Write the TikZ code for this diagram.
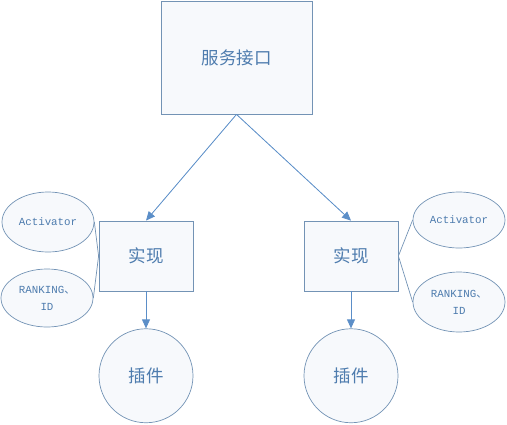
\documentclass[tikz,border=0pt]{standalone}
\usepackage{fontspec}
\newfontfamily\cjk{Noto Sans CJK SC}
\newfontfamily\latinmono{Liberation Mono}
\usetikzlibrary{arrows.meta,positioning,shapes.geometric}
\definecolor{edgeblue}{HTML}{7393B5}
\definecolor{arrowblue}{HTML}{5B8EC8}
\definecolor{textblue}{HTML}{4E7CAE}
\definecolor{paleblue}{HTML}{F7F9FC}

\begin{document}
\begin{tikzpicture}[
  x=1pt, y=-1pt,
  box/.style={draw=edgeblue, fill=paleblue, line width=0.8pt, text=textblue, inner sep=0pt, font=\cjk\fontsize{17.5}{20}\selectfont},
  oval/.style={ellipse, draw=edgeblue, fill=paleblue, line width=0.7pt, text=textblue, align=center, inner sep=0pt, minimum width=92pt, minimum height=58pt, font=\latinmono\fontsize{10.8}{17}\selectfont},
  plug/.style={circle, draw=edgeblue, fill=paleblue, line width=0.7pt, text=textblue, inner sep=0pt, minimum size=94pt, font=\cjk\fontsize{17.5}{20}\selectfont},
  arr/.style={-{Triangle[length=9pt,width=8pt]}, draw=arrowblue, fill=arrowblue, line width=0.8pt},
  link/.style={draw=edgeblue, line width=0.7pt}
]
\useasboundingbox (0,0) rectangle (507,424);

\node[box, minimum width=151pt, minimum height=113pt] (api) at (236.5,57.5) {服务接口};
\node[box, minimum width=94pt, minimum height=70pt] (implL) at (146,256) {实现};
\node[box, minimum width=94pt, minimum height=70pt] (implR) at (351,256) {实现};

\node[plug, below=37pt of implL] (plugL) {插件};
\node[plug, below=37pt of implR] (plugR) {插件};

\node[oval, minimum height=60pt] (actL) at (48,222) {Activator};
\node[oval] (rankL) at (47,298) {RANKING{\cjk 、}\\ID};
\node[oval, minimum height=56pt] (actR) at (459,220) {Activator};
\node[oval, minimum height=60pt] (rankR) at (459,302) {RANKING{\cjk 、}\\ID};

\draw[arr] (api.south) -- (implL.north);
\draw[arr] (api.south) -- (implR.north);
\draw[arr] (implL) -- (plugL);
\draw[arr] (implR) -- (plugR);

\draw[link] (implL.west) -- (actL.east);
\draw[link] (implL.west) -- (rankL.east);
\draw[link] (implR.east) -- (actR.west);
\draw[link] (implR.east) -- (rankR.west);
\end{tikzpicture}
\end{document}
